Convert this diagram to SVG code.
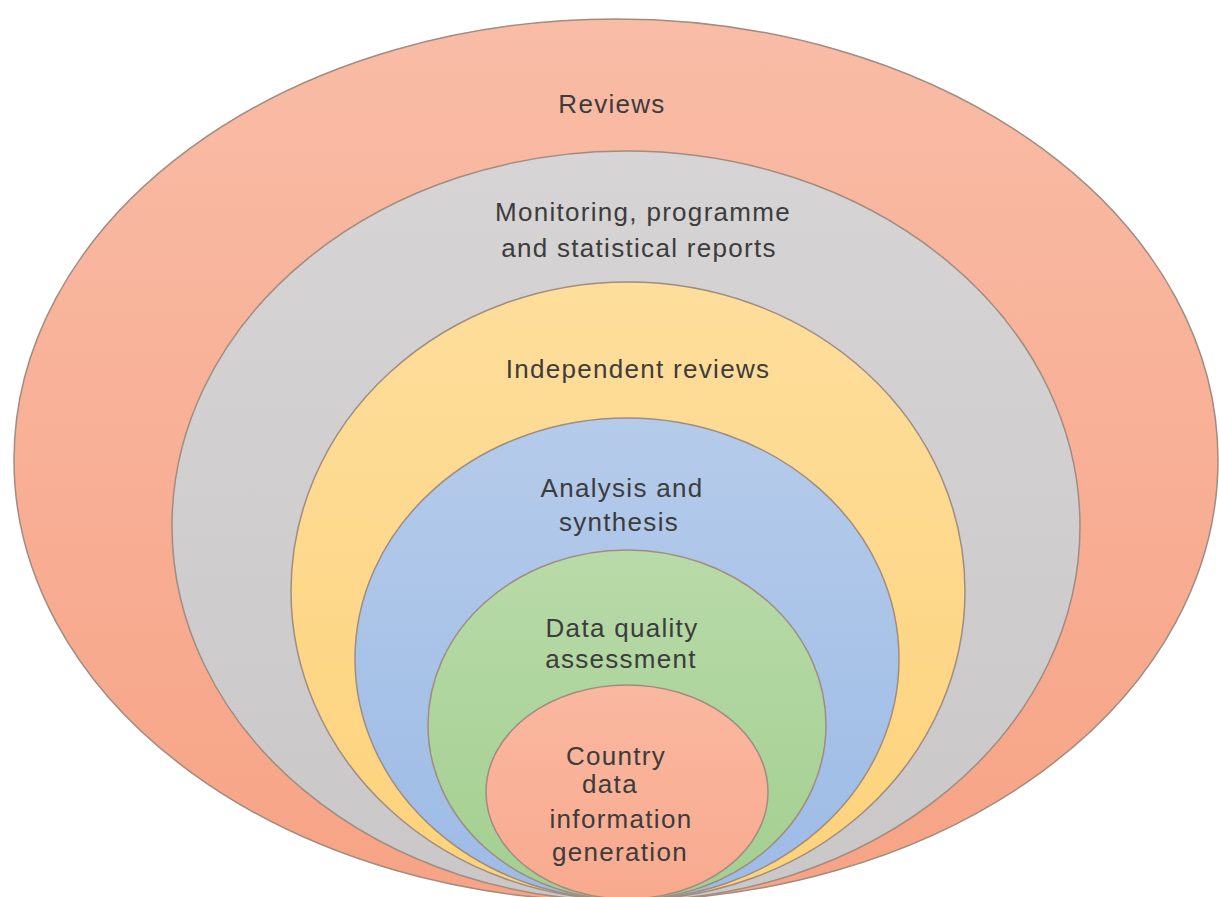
<svg xmlns="http://www.w3.org/2000/svg" width="1219" height="897" viewBox="0 0 1219 897">
<defs>
<linearGradient id="gSalmon" x1="0" y1="0" x2="0" y2="1"><stop offset="0" stop-color="#F9BCA6"/><stop offset="1" stop-color="#F7A385"/></linearGradient>
<linearGradient id="gGray" x1="0" y1="0" x2="0" y2="1"><stop offset="0" stop-color="#D6D4D4"/><stop offset="1" stop-color="#C9C7C7"/></linearGradient>
<linearGradient id="gYellow" x1="0" y1="0" x2="0" y2="1"><stop offset="0" stop-color="#FEDE9C"/><stop offset="1" stop-color="#FDD27A"/></linearGradient>
<linearGradient id="gBlue" x1="0" y1="0" x2="0" y2="1"><stop offset="0" stop-color="#B5CBEA"/><stop offset="1" stop-color="#9CBBE6"/></linearGradient>
<linearGradient id="gGreen" x1="0" y1="0" x2="0" y2="1"><stop offset="0" stop-color="#B8DAA8"/><stop offset="1" stop-color="#A3CF90"/></linearGradient>
<linearGradient id="gPink" x1="0" y1="0" x2="0" y2="1"><stop offset="0" stop-color="#FAB8A0"/><stop offset="1" stop-color="#F8AA8E"/></linearGradient>
</defs>
<style>
.ring{stroke:#A08C80;stroke-width:1.5}
.lbl{font-family:"Liberation Sans",Arial,sans-serif;font-size:26px;fill:#3C3C3C;text-anchor:middle;letter-spacing:1.3px}
</style>
<rect width="1219" height="897" fill="#FFFFFF"/>
<g id="reviews">
<ellipse class="ring" cx="616" cy="460" rx="602" ry="441" fill="url(#gSalmon)"/>
<text class="lbl" x="612" y="113">Reviews</text>
</g>
<g id="monitoring">
<ellipse class="ring" cx="626" cy="526" rx="454" ry="375" fill="url(#gGray)"/>
<text class="lbl" x="643" y="221">Monitoring, programme</text>
<text class="lbl" x="639" y="257">and statistical reports</text>
</g>
<g id="independent">
<ellipse class="ring" cx="628" cy="591" rx="337" ry="309" fill="url(#gYellow)"/>
<text class="lbl" x="638" y="378">Independent reviews</text>
</g>
<g id="analysis">
<ellipse class="ring" cx="627" cy="659" rx="272" ry="241" fill="url(#gBlue)"/>
<text class="lbl" x="622" y="497">Analysis and</text>
<text class="lbl" x="619" y="531">synthesis</text>
</g>
<g id="dataquality">
<ellipse class="ring" cx="627" cy="725" rx="199" ry="175" fill="url(#gGreen)"/>
<text class="lbl" x="622" y="637">Data quality</text>
<text class="lbl" x="621" y="668">assessment</text>
</g>
<g id="country">
<ellipse class="ring" cx="627" cy="792" rx="141" ry="107" fill="url(#gPink)"/>
<text class="lbl" x="616" y="765">Country</text>
<text class="lbl" x="610" y="793">data</text>
<text class="lbl" x="621" y="828">information</text>
<text class="lbl" x="620" y="861">generation</text>
</g>
<g id="connectors"></g>
</svg>
